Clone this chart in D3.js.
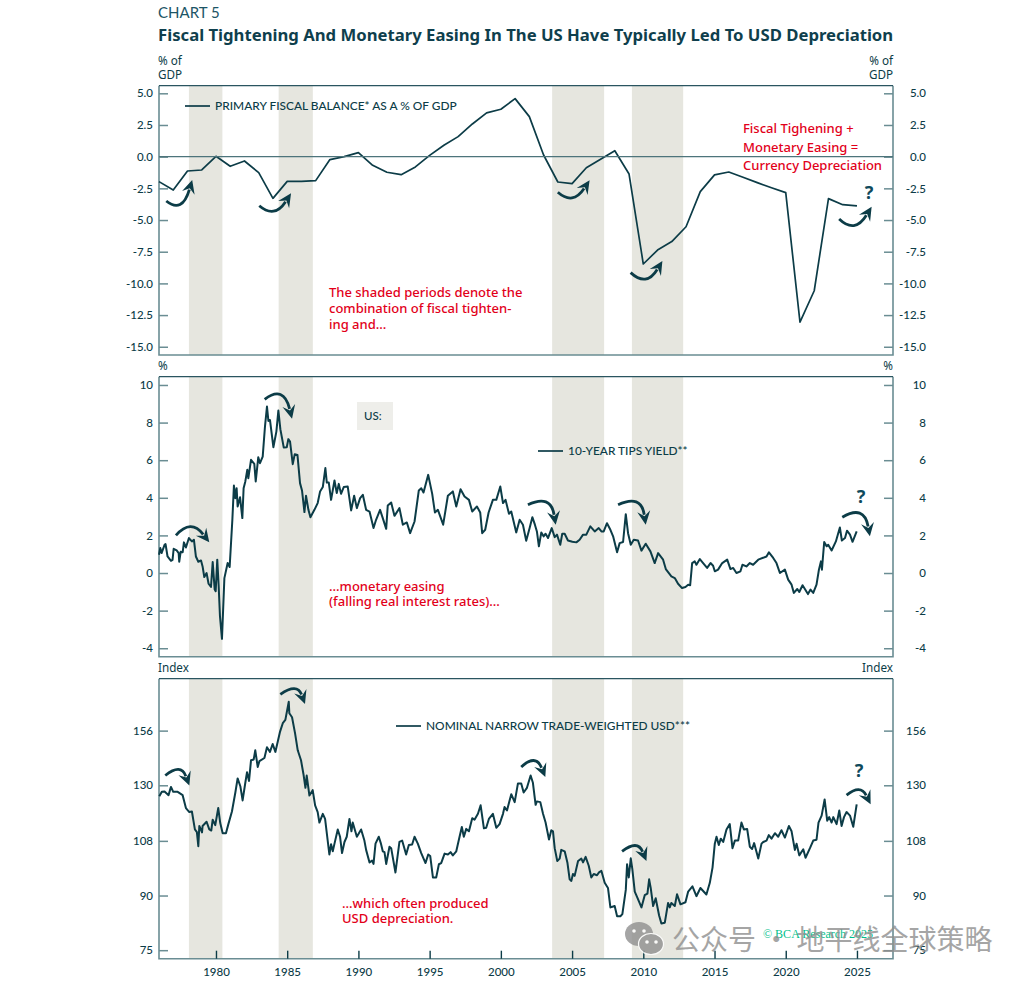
<!DOCTYPE html>
<html>
<head>
<meta charset="utf-8">
<script src="https://cdn.jsdelivr.net/npm/d3@7"></script>
<style>
  html, body { margin: 0; padding: 0; background: #fff; }
  svg { display: block; }
</style>
</head>
<body>
<svg id="chart" width="1024" height="982"></svg>
<script>
// shaded periods, in years
const shadedPeriods = [[1978.1, 1980.45], [1984.4, 1986.8], [2003.6, 2007.25], [2009.2, 2012.8]];

const yearTicks = [1980, 1985, 1990, 1995, 2000, 2005, 2010, 2015, 2020, 2025];
const fiscalTicks = [5, 2.5, 0, -2.5, -5, -7.5, -10, -12.5, -15];
const tipsTicks = [10, 8, 6, 4, 2, 0, -2, -4];
const usdTicks = [156, 130, 108, 90, 75];

// primary fiscal balance, one value per year from 1976
const fiscalValues = [-1.97, -2.63, -1.13, -1.05, 0.03, -0.76, -0.34, -1.26, -3.29, -1.95,
  -1.95, -1.89, -0.23, 0, 0.32, -0.68, -1.23, -1.42, -0.81, 0.1,
  0.9, 1.58, 2.58, 3.45, 3.74, 4.58, 3.16, 0.13, -2, -2.13,
  -0.87, -0.2, 0.47, -1.37, -8.47, -7.37, -6.7, -5.53, -2.76, -1.44,
  -1.21, -1.63, -2.05, -2.45, -2.84, -13.05, -10.58, -3.31, -3.79, -3.89];

// 10-year TIPS yield, [year, %]
const tipsValues = [
  [1976.0,0.97],[1976.09,1.33],[1976.18,1.06],[1976.39,1.5],[1976.46,1.54],[1976.6,0.88],[1976.84,0.65],[1976.95,0.7],
  [1977.03,1.29],[1977.24,1.2],[1977.38,1.06],[1977.42,0.6],[1977.52,1.13],[1977.66,1.1],[1977.75,1.63],[1977.89,1.36],
  [1978.1,1.86],[1978.31,1.68],[1978.45,1.77],[1978.59,0.88],[1978.76,0.6],[1978.95,0.67],[1979.06,0.35],[1979.18,-0.21],
  [1979.34,0],[1979.48,-0.57],[1979.65,-0.74],[1979.77,0.58],[1979.91,-0.88],[1979.98,-0.97],[1980.09,0.71],[1980.19,-0.71],
  [1980.28,-2.3],[1980.42,-3.5],[1980.59,-0.27],[1980.82,0.53],[1980.96,0.32],[1981.15,2.83],[1981.26,4.65],[1981.36,3.98],
  [1981.45,4.51],[1981.52,3.54],[1981.69,4.03],[1981.85,2.92],[1981.94,4.51],[1982.06,4.87],[1982.2,5.49],[1982.27,5.04],
  [1982.46,6.02],[1982.69,5.81],[1982.79,4.87],[1982.97,6.16],[1983.09,5.84],[1983.28,6.19],[1983.44,7.79],[1983.58,8.85],
  [1983.68,8.09],[1983.79,8.14],[1984.03,6.69],[1984.24,7.52],[1984.38,8.64],[1984.52,7.65],[1984.76,6.67],[1984.97,6.69],
  [1985.08,7.12],[1985.2,6.99],[1985.39,5.79],[1985.53,6.32],[1985.72,6.28],[1985.9,4.78],[1986.04,4.39],[1986.21,3.24],
  [1986.32,4.11],[1986.49,3.36],[1986.63,2.97],[1986.91,3.36],[1987.14,3.72],[1987.31,4.34],[1987.5,4.57],[1987.68,5.58],
  [1987.78,4.81],[1987.92,4.81],[1988.08,3.89],[1988.32,4.92],[1988.48,4.25],[1988.62,4.74],[1988.78,4.21],[1988.97,4.57],
  [1989.25,4.6],[1989.49,3.33],[1989.7,4.11],[1989.89,3.45],[1990.12,3.98],[1990.31,4.16],[1990.54,3.36],[1990.78,3.27],
  [1991.06,2.39],[1991.24,2.83],[1991.52,3.36],[1991.71,2.92],[1991.95,2.35],[1992.06,3.59],[1992.3,3.75],[1992.53,3.04],
  [1992.88,3.45],[1993.12,2.57],[1993.4,2.69],[1993.63,2.12],[1993.94,2.74],[1994.24,4.39],[1994.41,4.51],[1994.57,4.28],
  [1994.9,5.22],[1995.18,4.21],[1995.37,3.22],[1995.58,3.36],[1995.95,2.57],[1996.28,4.11],[1996.63,4.34],[1996.87,3.54],
  [1997.17,4.46],[1997.45,4.07],[1997.76,3.89],[1997.99,3.27],[1998.32,3.54],[1998.55,3.22],[1998.69,2.12],[1998.9,2.3],
  [1999.14,3.22],[1999.44,3.89],[1999.68,3.89],[1999.96,4.6],[2000.15,3.72],[2000.33,3.89],[2000.57,3.15],[2000.73,3.27],
  [2001.08,2.16],[2001.32,2.83],[2001.55,2.57],[2001.78,1.72],[2002.02,2.39],[2002.21,2.97],[2002.39,2.57],[2002.53,2.21],
  [2002.67,1.42],[2002.84,2.16],[2003.0,1.95],[2003.14,2.09],[2003.31,1.86],[2003.57,2.39],[2003.78,1.91],[2003.94,2.04],
  [2004.17,1.5],[2004.31,2.09],[2004.48,2.09],[2004.71,1.73],[2005.02,1.66],[2005.3,1.63],[2005.53,1.77],[2005.77,2.04],
  [2006.0,2.04],[2006.28,2.48],[2006.59,2.21],[2006.87,2.39],[2007.06,2.21],[2007.22,2.21],[2007.45,2.65],[2007.69,2.3],
  [2007.88,1.95],[2008.16,1.1],[2008.34,1.59],[2008.58,1.65],[2008.77,3.13],[2008.93,2.12],[2009.12,1.5],[2009.33,1.77],
  [2009.63,1.73],[2009.87,1.19],[2010.17,1.56],[2010.5,1.15],[2010.8,0.53],[2011.04,1.06],[2011.39,0.71],[2011.58,0.21],
  [2011.97,-0.18],[2012.21,-0.27],[2012.44,-0.57],[2012.72,-0.8],[2012.96,-0.74],[2013.15,-0.62],[2013.29,-0.65],[2013.43,0.53],
  [2013.61,0.62],[2013.73,0.44],[2013.97,0.74],[2014.2,0.53],[2014.48,0.27],[2014.72,0.53],[2014.9,0.39],[2015.02,0.09],
  [2015.25,0.18],[2015.54,0.53],[2015.89,0.71],[2016.12,0.21],[2016.31,0.27],[2016.54,0],[2016.82,0.09],[2016.96,0.44],
  [2017.24,0.35],[2017.48,0.53],[2017.71,0.44],[2018.07,0.71],[2018.65,0.88],[2018.82,1.1],[2019.12,0.8],[2019.35,0.53],
  [2019.59,0],[2019.94,0.18],[2020.17,-0.35],[2020.41,-0.62],[2020.57,-1.06],[2020.81,-0.85],[2020.95,-1.01],[2021.18,-0.65],
  [2021.56,-1.12],[2021.74,-0.88],[2021.93,-1.06],[2022.16,-0.62],[2022.33,0.18],[2022.47,0.62],[2022.54,0.18],[2022.7,1.65],
  [2022.87,1.42],[2022.98,1.5],[2023.22,1.2],[2023.52,1.68],[2023.8,2.42],[2023.94,1.73],[2024.16,1.86],[2024.3,2.25],
  [2024.51,2.04],[2024.69,1.66],[2024.98,2.21]
];

// nominal narrow trade-weighted USD, [year, index]
const usdValues = [
  [1976.02,125.3],[1976.2,127.2],[1976.39,127.3],[1976.67,125.8],[1976.84,129.3],[1977.0,127.2],[1977.31,127.2],[1977.66,125.8],
  [1977.89,120.5],[1978.13,118.9],[1978.31,119.1],[1978.52,112.2],[1978.66,111.2],[1978.76,106.1],[1978.83,113.5],[1979.02,111.1],
  [1979.06,113.5],[1979.34,115.1],[1979.53,112.2],[1979.67,111.8],[1979.77,115.9],[1979.95,113.8],[1980.16,120.5],[1980.3,114.6],
  [1980.47,110.8],[1980.7,110.8],[1980.87,114.2],[1981.12,119.1],[1981.36,126.9],[1981.52,133],[1981.71,129.6],[1981.87,123.6],
  [1982.06,131.1],[1982.18,135.8],[1982.32,131.9],[1982.46,141.3],[1982.65,141.7],[1982.76,146.1],[1982.93,138.2],[1983.05,140.9],
  [1983.4,142.4],[1983.58,147.6],[1983.79,145.3],[1983.98,149.2],[1984.17,145.3],[1984.5,155.5],[1984.69,159.9],[1984.87,161.7],
  [1985.11,171.8],[1985.15,165.3],[1985.34,163.1],[1985.55,154.7],[1985.74,146.1],[1985.97,141.3],[1986.14,135],[1986.28,128.9],
  [1986.37,134.3],[1986.56,125.6],[1986.79,127.9],[1986.96,121.6],[1987.14,118.9],[1987.26,114.8],[1987.5,118.2],[1987.66,116.2],
  [1987.96,103.2],[1988.08,106.8],[1988.2,104.3],[1988.32,107],[1988.55,112.2],[1988.71,109.5],[1988.85,103.7],[1989.02,107.6],
  [1989.18,109.5],[1989.37,116.2],[1989.51,111.5],[1989.6,114.8],[1989.89,109.5],[1990.19,112.2],[1990.42,108.1],[1990.54,104.8],
  [1990.78,100.5],[1990.96,101.1],[1991.06,100],[1991.2,107],[1991.43,109.5],[1991.57,107.2],[1991.71,104.3],[1991.83,104],
  [1991.95,100],[1992.18,105.9],[1992.3,105.4],[1992.6,97.2],[1992.88,107.6],[1993.07,108.1],[1993.35,103.2],[1993.54,106.5],
  [1993.77,106.7],[1993.94,109.5],[1994.17,107],[1994.41,103.7],[1994.71,100.3],[1994.9,103.2],[1995.04,102.7],[1995.23,95.6],
  [1995.46,95.6],[1995.65,99.9],[1995.81,100.3],[1996.05,103.5],[1996.28,103.2],[1996.47,104],[1996.63,102.9],[1996.87,104.3],
  [1997.1,109.5],[1997.26,113.1],[1997.4,109.5],[1997.57,112.4],[1997.76,111.5],[1997.99,116.5],[1998.15,115.9],[1998.39,118.2],
  [1998.58,121.6],[1998.81,112.6],[1998.97,112.8],[1999.16,116.2],[1999.44,118.2],[1999.68,112.8],[1999.91,114.2],[2000.15,118.2],
  [2000.26,120.9],[2000.43,119.5],[2000.73,126.2],[2000.97,122.9],[2001.2,130.8],[2001.43,130.8],[2001.6,126.9],[2001.83,128.9],
  [2002.09,134.3],[2002.25,131.1],[2002.44,121.8],[2002.53,123.2],[2002.77,122.9],[2002.96,118.2],[2003.14,114.8],[2003.38,108.5],
  [2003.54,111.9],[2003.66,111.5],[2003.78,105.4],[2003.96,101],[2004.13,101.8],[2004.24,104.8],[2004.48,104.3],[2004.67,100.5],
  [2004.83,95],[2004.95,94.5],[2005.06,96.7],[2005.18,96.1],[2005.42,101],[2005.65,101.8],[2005.77,100.5],[2005.95,102.4],
  [2006.17,99.4],[2006.35,95.6],[2006.52,96.7],[2006.75,96.3],[2006.89,97.2],[2007.06,97.7],[2007.29,93.9],[2007.52,92.3],
  [2007.69,86.5],[2007.83,86.7],[2007.99,86.9],[2008.16,84],[2008.39,84],[2008.53,84.6],[2008.77,91.7],[2008.86,99.9],
  [2008.98,95.6],[2009.12,101.9],[2009.23,98.3],[2009.4,91.2],[2009.56,89.6],[2009.87,86.5],[2010.1,90.1],[2010.29,90.6],
  [2010.41,95],[2010.52,92.3],[2010.69,86.9],[2010.87,89.2],[2011.11,84.2],[2011.27,82],[2011.51,82.2],[2011.74,87.8],
  [2011.86,86.5],[2011.97,87.8],[2012.21,86.9],[2012.37,90.4],[2012.61,87.4],[2012.96,88],[2013.15,91.2],[2013.45,92.8],
  [2013.73,89.8],[2014.01,92.3],[2014.43,90.3],[2014.67,93.9],[2014.86,98.8],[2015.02,107],[2015.14,109.5],[2015.3,106.5],
  [2015.44,108.8],[2015.61,107.6],[2015.84,112.2],[2016.07,114.2],[2016.26,105.4],[2016.43,108.1],[2016.66,108.1],[2016.89,114.8],
  [2017.06,112.2],[2017.29,112.4],[2017.48,105.9],[2017.64,105.1],[2017.78,107.2],[2018.07,101.8],[2018.3,107],[2018.42,107.6],
  [2018.65,108.1],[2018.81,110.1],[2019.0,108.8],[2019.24,110.8],[2019.47,109.5],[2019.7,111.9],[2019.94,109.2],[2020.22,113.5],
  [2020.41,111.5],[2020.64,104.8],[2020.76,107],[2020.95,102.9],[2021.23,105],[2021.39,102.1],[2021.7,105.4],[2021.93,108.1],
  [2022.16,108.4],[2022.3,114.8],[2022.52,117.5],[2022.73,124],[2022.91,115.5],[2023.05,116.9],[2023.22,114.8],[2023.34,116.9],
  [2023.57,114.2],[2023.76,119.5],[2023.92,113.5],[2024.09,116.9],[2024.27,118.9],[2024.51,117.5],[2024.74,113.2],[2024.98,122]
];

// curved arrows: start, bend and tip as [year, value]
const fiscalArrows = [
  [[1976.51,-3.5],[1977.63,-4.5],[1978.33,-1.84]],
  [[1983.04,-3.87],[1984.1,-4.9],[1985.27,-2.89]],
  [[2004.0,-2.81],[2005.06,-3.85],[2006.23,-1.86]],
  [[2009.11,-9.15],[2010.22,-10.3],[2011.34,-8.23]],
  [[2023.75,-4.92],[2024.85,-6.1],[2026.03,-3.95]]
];
const tipsArrows = [
  [[1977.19,2],[1978.24,2.9],[1979.53,1.63]],
  [[1983.42,9.24],[1984.75,10],[1985.34,8.21]],
  [[2001.9,3.63],[2003.5,4.2],[2003.85,2.57]],
  [[2008.23,3.63],[2009.85,4.2],[2010.17,2.57]],
  [[2023.97,2.97],[2025.5,3.65],[2025.91,1.95]]
];
const usdArrows = [
  [[1976.44,134.3],[1977.54,140],[1978.13,129.9]],
  [[1984.52,176.1],[1985.7,183],[1986.25,170.5]],
  [[2001.43,138.2],[2002.45,144.5],[2003.12,133.6]],
  [[2008.51,104.3],[2009.6,108.5],[2010.22,101]],
  [[2024.27,125.8],[2025.25,130.5],[2025.96,122]]
];

const dark = "#0c3c47";
const frame = "#6a8d93";
const red = "#e2001a";
const sans = "'Noto Sans', sans-serif";
const labelFont = "Lato, sans-serif";

const svg = d3.select("#chart");
const left = 159, right = 893;

const x = d3.scaleLinear().domain([1976, 2027.53]).range([left, right]);

const fiscalY = d3.scaleLinear().domain([-15.65, 5.6]).range([355, 85.7]);
const tipsY = d3.scaleLinear().domain([-4.45, 10.44]).range([656.7, 376.7]);
const usdY = d3.scaleLog().domain([72.9, 185.5]).range([958.7, 678.7]);

const line = y => d3.line().x(d => x(d[0])).y(d => y(d[1]));

function drawPanel(y, ticks, format, points, arrows, strokeWidth) {
  const top = y.range()[1], bottom = y.range()[0];
  const g = svg.append("g");

  // shaded periods
  g.selectAll("rect.band").data(shadedPeriods).join("rect")
    .attr("class", "band")
    .attr("x", d => x(d[0]))
    .attr("width", d => x(d[1]) - x(d[0]))
    .attr("y", top)
    .attr("height", bottom - top)
    .attr("fill", "#e6e6df");

  // left and right axes, ticks point inside
  const leftAxis = g.append("g").attr("transform", `translate(${left},0)`)
    .call(d3.axisLeft(y).tickValues(ticks).tickFormat(format).tickSize(-9).tickPadding(6));
  const rightAxis = g.append("g").attr("transform", `translate(${right},0)`)
    .call(d3.axisRight(y).tickValues(ticks).tickFormat(format).tickSize(-9).tickPadding(33));
  rightAxis.selectAll("text").attr("text-anchor", "end");
  [leftAxis, rightAxis].forEach(a => {
    a.select(".domain").remove();
    a.selectAll("line").attr("stroke", frame).attr("stroke-width", 1.5);
    a.selectAll("text").attr("fill", dark).attr("font-family", labelFont).attr("font-size", 11.5).attr("font-weight", 500);
  });

  // frame
  g.append("path")
    .attr("d", `M${left},${top}V${bottom}H${right}V${top}`)
    .attr("fill", "none").attr("stroke", frame).attr("stroke-width", 1.6);
  g.append("line")
    .attr("x1", left).attr("x2", right).attr("y1", top).attr("y2", top)
    .attr("stroke", "#2a5560").attr("stroke-width", 1.3);

  // series
  g.append("path")
    .datum(points)
    .attr("d", line(y))
    .attr("fill", "none")
    .attr("stroke", dark)
    .attr("stroke-width", strokeWidth)
    .attr("stroke-linejoin", "round");

  // arrows
  arrows.forEach(a => {
    const [p0, p1, p2] = a.map(d => [x(d[0]), y(d[1])]);
    const angle = Math.atan2(p2[1] - p1[1], p2[0] - p1[0]);
    const back = 10;
    const neck = [p2[0] - back * Math.cos(angle), p2[1] - back * Math.sin(angle)];
    g.append("path")
      .attr("d", `M${p0}Q${p1} ${neck}`)
      .attr("fill", "none").attr("stroke", dark).attr("stroke-width", 2.8);
    const head = [
      p2,
      [p2[0] - 15 * Math.cos(angle - 0.45), p2[1] - 15 * Math.sin(angle - 0.45)],
      [neck[0] + 1.5 * Math.cos(angle), neck[1] + 1.5 * Math.sin(angle)],
      [p2[0] - 15 * Math.cos(angle + 0.45), p2[1] - 15 * Math.sin(angle + 0.45)]
    ];
    g.append("polygon").attr("points", head.join(" ")).attr("fill", dark);
  });
  return g;
}

const f1 = d => d3.format(".1f")(d).replace("−", "-");
const f0 = d => String(d);

drawPanel(fiscalY, fiscalTicks, f1, fiscalValues.map((v, i) => [1976 + i, v]), fiscalArrows, 1.7);
svg.append("line")
  .attr("x1", left).attr("x2", right)
  .attr("y1", fiscalY(0)).attr("y2", fiscalY(0))
  .attr("stroke", "#4d747b").attr("stroke-width", 1.4);

drawPanel(tipsY, tipsTicks, f0, tipsValues, tipsArrows, 2);
const panel3 = drawPanel(usdY, usdTicks, f0, usdValues, usdArrows, 2);

// year ticks, bottom panel only
const yearAxis = panel3.append("g").attr("transform", "translate(0,958.7)")
  .call(d3.axisBottom(x).tickValues(yearTicks).tickFormat(d3.format("d")).tickSize(-8).tickPadding(9));
yearAxis.select(".domain").remove();
yearAxis.selectAll("line").attr("stroke", dark).attr("stroke-width", 1.4);
yearAxis.selectAll("text").attr("fill", dark).attr("font-family", labelFont).attr("font-size", 11.5).attr("font-weight", 500);

function label(text, px, py, opts = {}) {
  return svg.append("text")
    .attr("x", px).attr("y", py)
    .attr("fill", opts.fill || dark)
    .attr("font-family", opts.font || sans)
    .attr("font-size", opts.size || 11.7)
    .attr("font-weight", opts.weight || 400)
    .attr("text-anchor", opts.anchor || "start")
    .text(text);
}

// titles
label("CHART 5", 158, 18, { size: 15, font: labelFont, weight: 400, fill: "#1c5566" });
label("Fiscal Tightening And Monetary Easing In The US Have Typically Led To USD Depreciation", 158, 40.5, { size: 16.7, weight: 700, fill: "#0f3f4d" });

// units
[["% of", 65], ["GDP", 79]].forEach(d => {
  label(d[0], 158, d[1]);
  label(d[0], 893, d[1], { anchor: "end" });
});
label("%", 158, 370);
label("%", 893, 370, { anchor: "end" });
label("Index", 158, 672);
label("Index", 893, 672, { anchor: "end" });

// legends
const legends = [
  ["PRIMARY FISCAL BALANCE* AS A % OF GDP", 185, 106],
  ["10-YEAR TIPS YIELD**", 538, 451],
  ["NOMINAL NARROW TRADE-WEIGHTED USD***", 396, 726]
];
legends.forEach(d => {
  svg.append("line").attr("x1", d[1]).attr("x2", d[1] + 25).attr("y1", d[2]).attr("y2", d[2])
    .attr("stroke", dark).attr("stroke-width", 1.7);
  label(d[0], d[1] + 30, d[2] + 4, { size: 11.9, font: labelFont, weight: 500 });
});

// "US:" box
svg.append("rect").attr("x", 357).attr("y", 402).attr("width", 36).attr("height", 28).attr("fill", "#eeeeea");
label("US:", 364, 420, { size: 11.5, font: labelFont, weight: 500 });

// red notes
const notes = [
  ["The shaded periods denote the", 329, 297],
  ["combination of fiscal tighten-", 329, 313],
  ["ing and...", 329, 329],
  ["Fiscal Tighening +", 743, 133],
  ["Monetary Easing =", 743, 152],
  ["Currency Depreciation", 743, 170],
  ["...monetary easing", 329, 591],
  ["(falling real interest rates)...", 329, 606],
  ["...which often produced", 342, 908],
  ["USD depreciation.", 342, 923]
];
notes.forEach(d => label(d[0], d[1], d[2], { size: 13, weight: 500, fill: red }));

// question marks
[[869, 199], [861, 503], [859, 777]].forEach(d => {
  label("?", d[0], d[1], { size: 18, weight: 700, anchor: "middle", fill: "#0f4a5c" });
});

// copyright and watermark
label("© BCA Research 2025", 763, 938, { size: 12, font: "'Liberation Serif', serif", fill: "#00bf8c" });
const mark = svg.append("g").attr("fill", "#8f8f8f").attr("opacity", 0.8);
mark.append("ellipse").attr("cx", 639).attr("cy", 934).attr("rx", 14).attr("ry", 12);
mark.append("ellipse").attr("cx", 651).attr("cy", 944).attr("rx", 12.5).attr("ry", 10.5).attr("stroke", "#fff").attr("stroke-width", 1.2);
[[634, 931], [644, 931], [647, 942], [656, 942]].forEach(d => {
  mark.append("circle").attr("cx", d[0]).attr("cy", d[1]).attr("r", 1.8).attr("fill", "#fff");
});
label("公众号 · 地平线全球策略", 672, 950, { size: 28, font: "'Noto Sans CJK SC'", fill: "#8f8f8f" }).attr("opacity", 0.8);
</script>
</body>
</html>
